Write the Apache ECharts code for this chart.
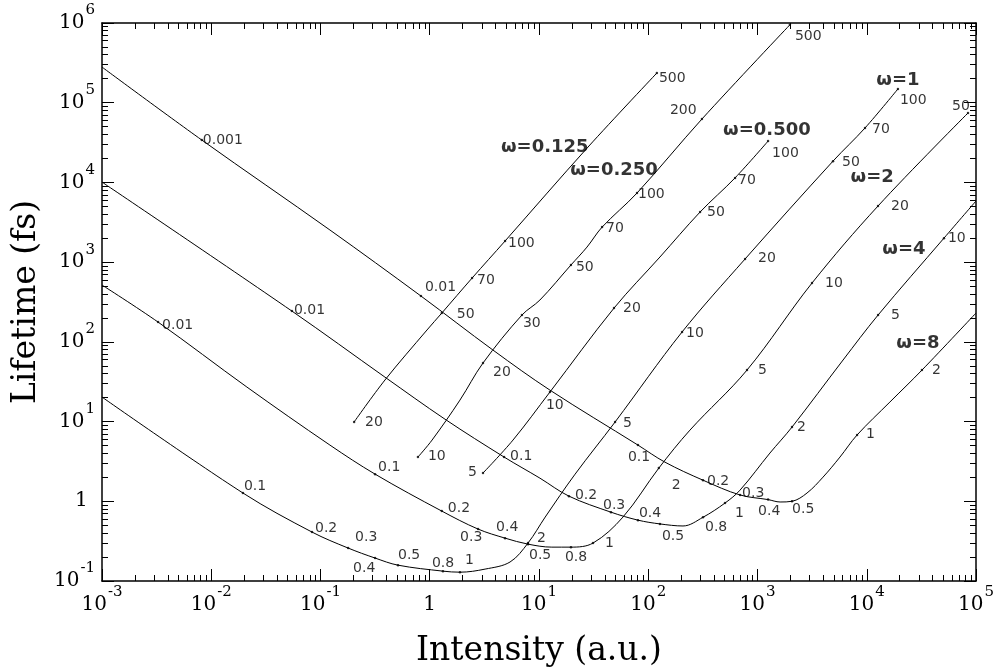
<!DOCTYPE html>
<html>
<head>
<meta charset="utf-8">
<script src="https://cdn.jsdelivr.net/npm/echarts@6/dist/echarts.min.js"></script>
<style>
html,body{margin:0;padding:0;background:#fff;}
#chart{width:993px;height:669px;}
</style>
</head>
<body>
<div id="chart"></div>
<script>
// ---------------- DATA (intensity a.u., lifetime fs, point label) ----------------
const w0125 = [[0.203, 9.87, '20'], [0.389, 33.2, ''], [0.944, 141, ''], [1.29, 230, '50'],
  [2.44, 631, '70'], [4.89, 1840, '100'], [28.1, 27800, ''], [120, 236000, '500']];

const w025 = [[0.780, 3.59, '10'], [1.05, 5.86, ''], [1.89, 18.6, ''], [3.07, 54.2, '20'],
  [6.98, 217, '30'], [10.2, 335, ''], [19.6, 920, '50'], [27.5, 1545, ''], [37.8, 2750, '70'],
  [78.9, 7360, '100'], [310, 62400, '200'], [1980, 950000, '500']];

const w05 = [[3.07, 2.26, '5'], [5.78, 5.86, ''], [12.6, 23.5, '10'], [48.6, 265, '20'],
  [128, 1160, ''], [298, 4250, '50'], [623, 11400, '70'], [1250, 33000, '100']];

const w1 = [[0.001, 20.3, ''], [0.0195, 1.27, '0.1'], [0.0836, 0.411, '0.2'],
  [0.179, 0.259, '0.3'], [0.316, 0.194, '0.4'], [0.512, 0.158, '0.5'], [1.32, 0.133, '0.8'],
  [1.89, 0.129, '1'], [3.21, 0.141, ''], [5.43, 0.173, ''], [7.93, 0.299, '2'], [11.4, 0.634, ''],
  [21.4, 2.19, ''], [49.7, 9.87, '5'], [204, 133, '10'], [769, 1094, '20'], [4910, 18500, '50'],
  [9640, 48200, '70'], [19300, 149000, '100']];

const w2 = [[0.001, 516, ''], [0.00326, 177, '0.01'], [0.0212, 27.1, ''], [0.122, 5.07, ''],
  [0.316, 2.19, '0.1'], [1.29, 0.753, '0.2'], [2.77, 0.448, '0.3'], [4.89, 0.345, '0.4'],
  [7.93, 0.290, '0.5'], [13.1, 0.266, ''], [19.6, 0.266, '0.8'], [31.2, 0.299, '1'],
  [58.7, 0.634, ''], [125, 2.61, '2'], [241, 7.82, ''], [802, 44.3, '5'], [3155, 547, '10'],
  [12680, 5060, '20'], [84500, 74300, '50']];

const w4 = [[0.001, 10100, ''], [0.0548, 243, '0.01'], [0.389, 36.1, ''], [1.38, 10.7, ''],
  [4.79, 3.59, '0.1'], [10.2, 1.95, ''], [18.8, 1.16, '0.2'], [45.6, 0.73, '0.3'],
  [80.5, 0.58, '0.4'], [128, 0.52, '0.5'], [208, 0.49, ''], [317, 0.63, '0.8'], [504, 0.95, '1'],
  [692, 1.38, ''], [1300, 4.03, ''], [2070, 8.53, '2'], [6070, 59.2, ''], [12700, 217, '5'],
  [50900, 2000, '10'], [100000, 5850, '']];

const w8 = [[0.001, 280000, ''], [0.0082, 34000, '0.001'], [0.122, 2530, ''], [0.83, 376, '0.01'],
  [3.79, 78.9, ''], [12.6, 24.8, ''], [80.5, 5.07, '0.1'], [142, 3.1, ''], [317, 1.84, '0.2'],
  [692, 1.20, '0.3'], [1250, 1.05, '0.4'], [1610, 0.98, ''], [2070, 1.0, '0.5'], [2840, 1.27, ''],
  [3980, 2.01, ''], [5690, 3.59, ''], [8150, 6.78, '1'], [16300, 17.6, ''], [32000, 44.2, '2'],
  [100000, 230, '']];

const curveNames = ['w0125', 'w025', 'w05', 'w1', 'w2', 'w4', 'w8'];
const curveData = {w0125, w025, w05, w1, w2, w4, w8};

// curve titles and where they sit (data coordinates)
const omegaTitles = ['ω=0.125', 'ω=0.250', 'ω=0.500', 'ω=1', 'ω=2', 'ω=4', 'ω=8'];
const omegaTitleX = [11.3, 48.6, 1220, 19300, 11200, 21900, 29400];
const omegaTitleY = [27800, 14300, 45400, 193000, 11700, 1460, 96.6];

// ---------------- STYLE: label offsets (px, text-left / text-middle from dot) ----------------
const labelOffsets = {
  w8: {'0.001':[1,0], '0.01':[4,-9], '0.1':[-10,12], '0.2':[4,1], '0.3':[2,-2], '0.4':[-10,12], '0.5':[0,8], '1':[9,-1], '2':[10,0]},
  w4: {'0.01':[2,-1], '0.1':[6,-1], '0.2':[6,-1], '0.3':[-8,-7], '0.4':[1,-7], '0.5':[2,12], '0.8':[2,10], '1':[10,10], '2':[5,0], '5':[13,0], '10':[4,0]},
  w2: {'0.01':[4,3], '0.1':[3,-7], '0.2':[6,-3], '0.3':[-18,8], '0.4':[-9,-11], '0.5':[1,11], '0.8':[-6,10], '1':[12,0], '2':[13,17], '5':[11,0], '10':[13,0], '20':[13,0], '50':[-16,-7]},
  w1: {'0.1':[1,-7], '0.2':[3,-4], '0.3':[7,-11], '0.4':[-22,10], '0.5':[0,-10], '0.8':[-11,-8], '1':[5,-12], '2':[9,-5], '5':[8,1], '10':[4,1], '20':[13,-1], '50':[9,1], '70':[7,1], '100':[2,11]},
  w05: {'5':[-15,-1], '10':[-4,13], '20':[9,0], '50':[7,0], '70':[3,2], '100':[4,12]},
  w025: {'10':[10,-1], '20':[10,9], '30':[1,8], '50':[5,2], '70':[4,1], '100':[1,1], '200':[-32,-9], '500':[5,12]},
  w0125: {'20':[11,0], '50':[15,1], '70':[5,2], '100':[3,2], '500':[2,5]}
};

const serif = 'DejaVu Serif';
const sans = 'DejaVu Sans';

function tickFormatter(v) {
  const e = Math.round(Math.log10(v));
  if (e === 0) return '{b|1}{z| }';
  return '{b|10}{s|' + e + '}';
}
function richFor(isY) {
  return {
    b: {fontFamily: serif, fontSize: 20, lineHeight: 24, color: '#000'},
    s: {fontFamily: serif, fontSize: 15, lineHeight: 15, color: '#000', padding: [0, 0, 25, 1]},
    z: {fontFamily: serif, fontSize: 1, lineHeight: 1, padding: [0, isY ? 7 : 0, 39, 0]}
  };
}

function makeAxis(kind, pos, main) {
  const isX = kind === 'x';
  return {
    type: 'log', logBase: 10,
    position: pos,
    min: isX ? 0.001 : 0.1,
    max: isX ? 100000 : 1000000,
    splitNumber: isX ? 8 : 7,
    axisLine: {show: true, onZero: false, lineStyle: {color: '#000', width: 1.5}},
    axisTick: {show: true, inside: true, length: 12, lineStyle: {color: '#000', width: 1}},
    minorTick: {show: true, splitNumber: 9, length: 6, lineStyle: {color: '#000', width: 1}},
    splitLine: {show: false},
    minorSplitLine: {show: false},
    axisLabel: main ? {
      show: true, margin: isX ? 12 : 7, formatter: tickFormatter, rich: richFor(!isX),
      fontFamily: serif, fontSize: 20, color: '#000'
    } : {show: false},
    name: main ? (isX ? 'Intensity (a.u.)' : 'Lifetime (fs)') : '',
    nameLocation: 'middle',
    nameGap: isX ? 54 : 54,
    nameTextStyle: {fontFamily: serif, fontSize: 33, color: '#000'}
  };
}

const series = [];
curveNames.forEach(function (key) {
  const pts = curveData[key];
  series.push({
    type: 'line', name: key,
    data: pts.map(p => [p[0], p[1]]),
    smooth: 0.35,
    showSymbol: false, symbol: 'none',
    lineStyle: {color: '#000', width: 1},
    silent: true, z: 2
  });
  series.push({
    type: 'scatter', name: key + '_pts',
    symbol: 'circle', symbolSize: 2.5,
    itemStyle: {color: '#000'},
    silent: true, z: 3,
    data: pts.filter(p => p[2]).map(p => ({
      value: [p[0], p[1]], name: p[2],
      label: {offset: (labelOffsets[key][p[2]] || [4, 0])}
    })),
    label: {
      show: true, position: 'inside', align: 'left', verticalAlign: 'middle',
      formatter: p => p.name, fontFamily: sans, fontSize: 14, color: '#000'
    }
  });
});
series.push({
  type: 'scatter', name: 'titles', symbol: 'circle', symbolSize: 1, silent: true, z: 4,
  itemStyle: {color: 'rgba(0,0,0,0)'},
  data: omegaTitles.map((t, i) => ({value: [omegaTitleX[i], omegaTitleY[i]], name: t})),
  label: {
    show: true, position: 'inside', align: 'center', verticalAlign: 'middle',
    formatter: p => p.name, fontFamily: sans, fontWeight: 'bold', fontSize: 18, color: '#000'
  }
});

const chart = echarts.init(document.getElementById('chart'), null, {renderer: 'canvas'});
chart.setOption({
  backgroundColor: '#fff',
  animation: false,
  grid: {left: 102, right: 17, top: 23, bottom: 88, containLabel: false, outerBoundsMode: 'none'},
  xAxis: [makeAxis('x', 'bottom', true), makeAxis('x', 'top', false)],
  yAxis: [makeAxis('y', 'left', true), makeAxis('y', 'right', false)],
  series: series
});
</script>
</body>
</html>
